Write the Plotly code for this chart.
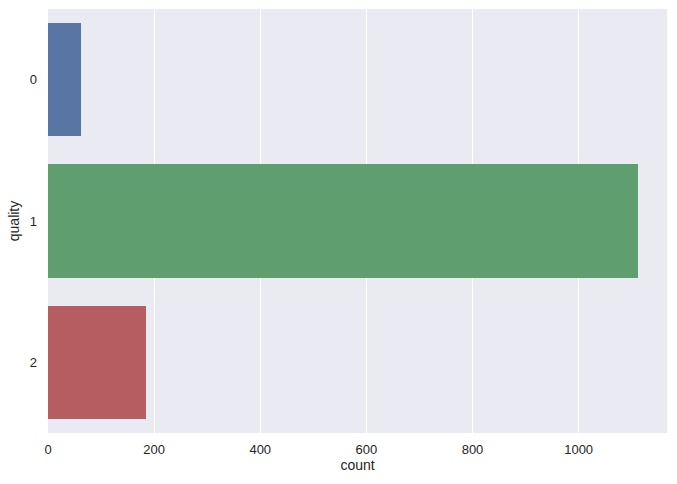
import plotly.graph_objects as go

categories = ["0", "1", "2"]
counts = [62, 1111, 184]
colors = ["#5875A4", "#5F9E6E", "#B55D60"]

fig = go.Figure()
fig.add_trace(go.Bar(
    x=counts,
    y=[0, 1, 2],
    orientation="h",
    width=0.8,
    marker=dict(color=colors, line=dict(width=0)),
    showlegend=False,
))

fig.update_layout(
    width=677, height=484,
    margin=dict(l=48, r=10, t=9, b=51, autoexpand=False),
    paper_bgcolor="white",
    plot_bgcolor="#EAEAF2",
    font=dict(family="Liberation Sans, Arial, sans-serif", size=13, color="#262626"),
    bargap=0,
)
fig.update_xaxes(
    range=[0, max(counts) * 1.05],
    tickvals=[0, 200, 400, 600, 800, 1000],
    showgrid=True, gridcolor="white", gridwidth=1,
    zeroline=False, showline=False, ticks="",
    automargin=False,
    ticklabelstandoff=7,
    title=dict(text="count", font=dict(size=14), standoff=4),
    tickfont=dict(size=13),
)
fig.update_yaxes(
    range=[2.5, -0.5],
    tickvals=[0, 1, 2],
    ticktext=categories,
    showgrid=False, zeroline=False, showline=False, ticks="",
    automargin=False,
    ticklabelstandoff=10,
    title=dict(text="quality", font=dict(size=14), standoff=6),
    tickfont=dict(size=13),
)

fig.write_html(
    "out.html",
    config={"displayModeBar": False},
    post_script="document.body.style.margin='0';document.body.style.padding='0';",
)
